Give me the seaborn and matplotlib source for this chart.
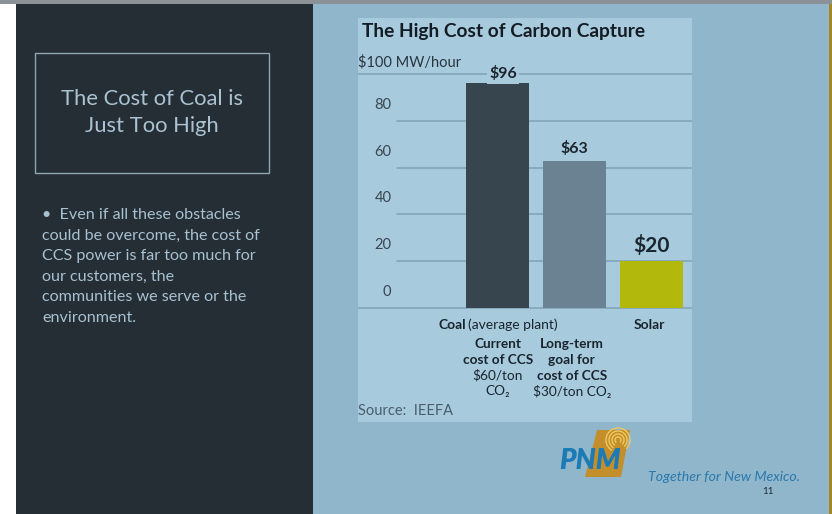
import matplotlib
matplotlib.use("Agg")
import matplotlib.pyplot as plt
import matplotlib.patches as mpatches
import seaborn as sns
import numpy as np

# ---------------- data ----------------
categories = ["Coal – current CCS", "Coal – long-term CCS", "Solar"]
values = [96, 63, 20]
value_labels = ["$96", "$63", "$20"]
bar_colors = ["#37454f", "#6b8293", "#b2b80c"]
yticks = [0, 20, 40, 60, 80]
ytick_labels = ["0", "20", "40", "60", "80"]
top_tick_label = "$100 MW/hour"
chart_title = "The High Cost of Carbon Capture"
sub_label_current = ["Current", "cost of CCS", "$60/ton", "CO₂"]
sub_label_longterm = ["Long-term", "goal for", "cost of CCS", "$30/ton CO₂"]
slide_title = "The Cost of Coal is\nJust Too High"
bullet_lines = ["•  Even if all these obstacles",
                "could be overcome, the cost of",
                "CCS power is far too much for",
                "our customers, the",
                "communities we serve or the",
                "environment."]

sns.set_theme(style="white")
plt.rcParams['font.family'] = ['Lato', 'DejaVu Sans']

W, H = 832, 514
fig = plt.figure(figsize=(W / 100, H / 100), dpi=100)
fig.patch.set_facecolor("#90b6cc")


def fx(x):
    return x / W


def fy(y):
    return 1 - y / H


def frect(x0, y0, x1, y1, color, z=0, **kw):
    fig.patches.append(mpatches.Rectangle((fx(x0), fy(y1)), (x1 - x0) / W, (y1 - y0) / H,
                                          transform=fig.transFigure, facecolor=color,
                                          edgecolor="none", zorder=z, **kw))


# slide background pieces
frect(0, 0, 16, H, "#ffffff")
frect(16, 4, 313, H, "#252e35")
frect(0, 0, W, 4, "#8b9297")
frect(829, 4, 832, H, "#a68525")

# left panel box + texts
fig.patches.append(mpatches.Rectangle((fx(35), fy(173)), (269 - 35) / W, (173 - 53) / H,
                                      transform=fig.transFigure, facecolor="none",
                                      edgecolor="#8ea5b4", lw=1.0, zorder=2))
fig.text(fx(152), fy(112.5), slide_title, ha="center", va="center", fontsize=15.8,
         fontweight="normal", color="#aac2d2", linespacing=1.45)
for i, line in enumerate(bullet_lines):
    fig.text(fx(42), fy(215 + i * 20.6), line, ha="left", va="center", fontsize=11.6,
             color="#a8c1d1")

# ---------------- chart ----------------
L, R, T, B = 358, 692, 18, 422
ax = fig.add_axes([fx(L), fy(B), (R - L) / W, (B - T) / H])
ax.set_facecolor("#a7cadd")

step_px = 77.0
c0 = 497.0
zero_px, px_per_unit = 308.0, 2.34

grid_c = "#7fa2b8"
for t in yticks[1:]:
    ax.axhline(t, xmin=(397 - L) / (R - L), xmax=1, color=grid_c, lw=1.1, zorder=1)
ax.axhline(0, color=grid_c, lw=1.1, zorder=1)
ax.axhline(100, color=grid_c, lw=1.1, zorder=1)

sns.barplot(x=categories, y=values, hue=categories, palette=bar_colors, legend=False,
            saturation=1, width=63 / step_px, ax=ax, zorder=3, edgecolor="none")
ax.set_xlim((L - c0) / step_px, (R - c0) / step_px)
ax.set_ylim((zero_px - B) / px_per_unit, (zero_px - T) / px_per_unit)

ax.set_xticks([])
ax.set_yticks([])
ax.set_xlabel("")
ax.set_ylabel("")
for s in ax.spines.values():
    s.set_visible(False)

# y tick labels above gridlines
for t, lab in zip(yticks, ytick_labels):
    ax.annotate(lab, (0, t), xycoords=("axes fraction", "data"), xytext=(24.1, 6.5),
                textcoords="offset points", ha="right", va="bottom", fontsize=10.5,
                color="#3a4650")
ax.annotate(top_tick_label, (0, 100), xycoords=("axes fraction", "data"), xytext=(0, 3),
            textcoords="offset points", ha="left", va="bottom", fontsize=10.5,
            color="#2a363f")

# value labels
label_sizes = [11.5, 11.5, 15]
label_offsets = [0, 3, 4]
for i, (v, lab) in enumerate(zip(values, value_labels)):
    if i == 0:
        ax.annotate(lab, (i + 0.08, 100), xytext=(0, 0), textcoords="offset points",
                    ha="center", va="center", fontsize=label_sizes[i], fontweight="bold",
                    color="#1b252d", zorder=5,
                    bbox=dict(boxstyle="square,pad=0.15", fc="#a7cadd", ec="none"))
    else:
        ax.annotate(lab, (i, v), xytext=(0, label_offsets[i]), textcoords="offset points",
                    ha="center", va="bottom", fontsize=label_sizes[i], fontweight="bold",
                    color="#1b252d", zorder=5)

# category labels below the axis
cat_y = (zero_px - 325) / px_per_unit
ax.text(-0.40, cat_y, "Coal", ha="right", va="center", fontsize=10, fontweight="bold",
        color="#1b252d")
ax.text(-0.382, cat_y, "(average plant)", ha="left", va="center", fontsize=10,
        color="#1b252d")
ax.text(1.98, cat_y, "Solar", ha="center", va="center", fontsize=10, fontweight="bold",
        color="#1b252d")

line_px = [344, 359.5, 375.5, 391]
for j, line in enumerate(sub_label_current):
    ax.text(0.01, (zero_px - line_px[j]) / px_per_unit, line, ha="center", va="center",
            fontsize=9.8, fontweight="bold" if j < 2 else "normal", color="#1b252d")
for j, line in enumerate(sub_label_longterm):
    ax.text(0.97, (zero_px - line_px[j]) / px_per_unit, line, ha="center", va="center",
            fontsize=9.8, fontweight="bold" if j < 3 else "normal", color="#1b252d")

ax.text(0.0, (B - 411) / (B - T), "Source:  IEEFA", transform=ax.transAxes, ha="left",
        va="center", fontsize=10.5, color="#4b5d6a")
ax.text(0.012, (B - 32) / (B - T), chart_title, transform=ax.transAxes, ha="left",
        va="center", fontsize=13.8, fontweight="bold", color="#151d24")

# ---------------- logo / footer ----------------
gold = "#c38f2c"
poly = [(597, 430), (630, 430), (621, 477), (585, 477)]
fig.patches.append(mpatches.Polygon([(fx(x), fy(y)) for x, y in poly], closed=True,
                                    transform=fig.transFigure, facecolor=gold,
                                    edgecolor="none", zorder=3))
for r in [3, 6, 9, 12]:
    fig.patches.append(mpatches.Arc((fx(618), fy(440)), 2 * r / W, 2 * r / H,
                                    transform=fig.transFigure, theta1=-60, theta2=250,
                                    edgecolor="#f0c860", lw=1.0, zorder=4))
fig.text(fx(590), fy(461), "PNM", ha="center", va="center", fontsize=20,
         fontweight="heavy", fontstyle="italic", color="#1c7ab4", zorder=5)
fig.text(fx(648), fy(477), "Together for New Mexico.", ha="left", va="center",
         fontsize=10.2, fontstyle="italic", color="#2b78ac")
fig.text(fx(768), fy(492), "11", ha="center", va="center", fontsize=7, color="#1e2a33")

fig.savefig("out.png", dpi=100)
